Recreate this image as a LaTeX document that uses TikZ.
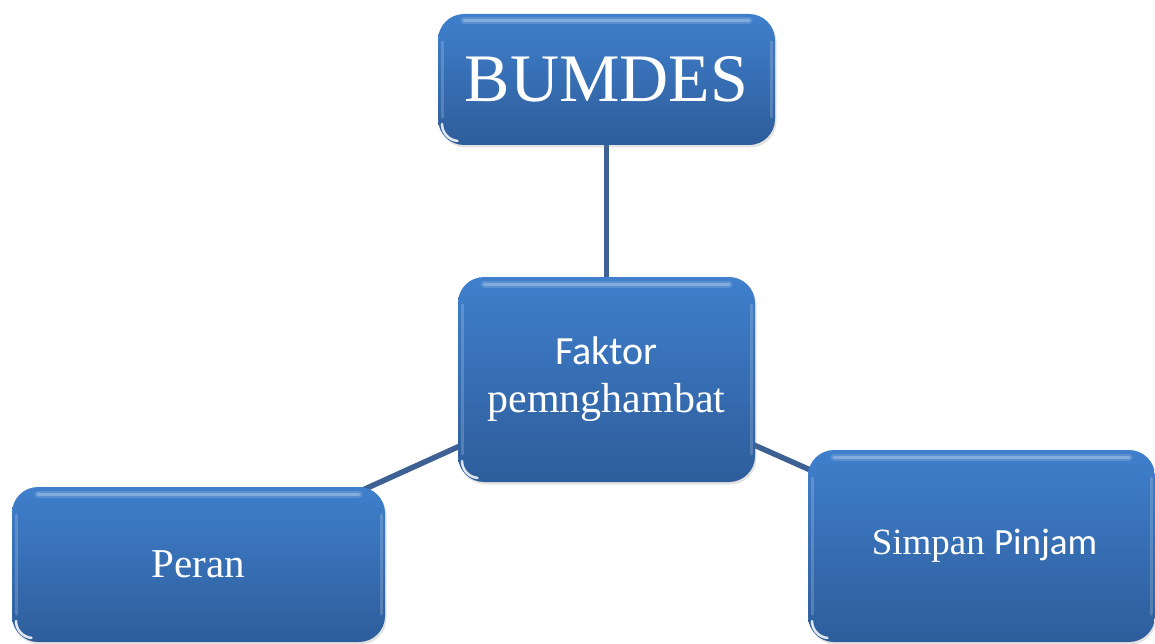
\documentclass[tikz,border=0pt]{standalone}
\usepackage{fontspec}
\setmainfont{Liberation Serif}
\newfontfamily\carl{Carlito}
\usetikzlibrary{backgrounds,shadows}
\definecolor{boxtop}{HTML}{3F7FCC}
\definecolor{boxbot}{HTML}{2E5D9B}
\definecolor{conncol}{HTML}{3C6192}
\tikzset{
  box/.style={rounded corners=26pt, inner sep=0pt, top color=boxtop, bottom color=boxbot,
    text=white, align=center,
    drop shadow={opacity=.22, shadow xshift=1.5pt, shadow yshift=-2.5pt},
    path picture={
      \draw[white, opacity=.15, line width=7pt, line cap=round]
        ([xshift=26pt,yshift=-7pt]path picture bounding box.north west) --
        ([xshift=-26pt,yshift=-7pt]path picture bounding box.north east);
      \draw[white, opacity=.25, line width=3pt, line cap=round]
        ([xshift=26pt,yshift=-7pt]path picture bounding box.north west) --
        ([xshift=-26pt,yshift=-7pt]path picture bounding box.north east);
      \draw[white, opacity=.18, line width=3pt, line cap=round]
        ([xshift=4pt,yshift=-28pt]path picture bounding box.north west) --
        ([xshift=4pt,yshift=28pt]path picture bounding box.south west);
      \draw[white, opacity=.18, line width=3pt, line cap=round]
        ([xshift=-4pt,yshift=-28pt]path picture bounding box.north east) --
        ([xshift=-4pt,yshift=28pt]path picture bounding box.south east);
      \draw[white, opacity=.85, line width=2.5pt, line cap=round]
        ([xshift=4pt,yshift=21pt]path picture bounding box.south west)
        arc[start angle=180, end angle=265, radius=17pt];
    }},
  conn/.style={draw=conncol, line width=5.5pt}
}
\begin{document}
\begin{tikzpicture}[x=1pt, y=-1pt]
  \useasboundingbox (0,0) rectangle (1155,644);
  \clip (0,0) rectangle (1155,644);
  \node[box, minimum width=337pt, minimum height=131pt,
        font=\fontsize{68}{74}\selectfont] (bum) at (606.5,79.5) {BUMDES};
  \node[box, minimum width=297pt, minimum height=205pt,
        font=\fontsize{42}{48}\selectfont] (fak) at (606.5,379.5)
        {{\carl\fontsize{40}{48}\selectfont Faktor}\\pemnghambat};
  \node[box, minimum width=373pt, minimum height=155pt,
        font=\fontsize{41}{48}\selectfont] (per) at (198.5,564.5) {Peran};
  \node[box, minimum width=347pt, minimum height=192pt,
        font=\fontsize{37}{44}\selectfont] (sim) at (981.5,546) {\hspace*{6pt}Simpan {\carl Pinjam}};
  \begin{scope}[on background layer]
    \draw[conn] (bum.center) -- (fak.center);
    \draw[conn] (fak.center) -- (per.center);
    \draw[conn] (fak.center) -- (sim.center);
  \end{scope}
\end{tikzpicture}
\end{document}
